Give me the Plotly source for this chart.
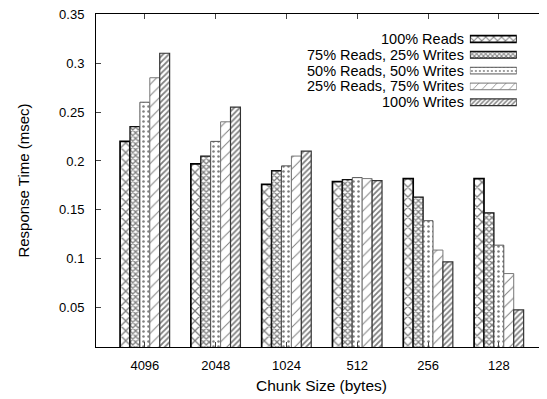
import plotly.graph_objects as go

categories = ["4096", "2048", "1024", "512", "256", "128"]
series_names = ["100% Reads", "75% Reads, 25% Writes", "50% Reads, 50% Writes",
                "25% Reads, 75% Writes", "100% Writes"]
reads100 = [0.220, 0.197, 0.176, 0.179, 0.182, 0.182]
reads75 = [0.235, 0.205, 0.190, 0.181, 0.163, 0.147]
reads50 = [0.260, 0.220, 0.195, 0.183, 0.139, 0.114]
reads25 = [0.285, 0.240, 0.205, 0.182, 0.109, 0.085]
writes100 = [0.310, 0.255, 0.210, 0.180, 0.097, 0.048]
y_ticks = [0.05, 0.1, 0.15, 0.2, 0.25, 0.3, 0.35]
y_tick_labels = ["0.05", "0.1", "0.15", "0.2", "0.25", "0.3", "0.35"]
legend_swatch_len = [1, 1, 1, 1, 1]

series_values = [reads100, reads75, reads50, reads25, writes100]
shapes = ["x", "x", ".", "/", "/"]
sizes = [7, 4, 5, 8, 4]
solidities = [0.33, 0.55, 0.2, 0.12, 0.45]
line_colors = ["black", "#111111", "#555555", "#777777", "#333333"]
line_widths = [1.7, 1.3, 1.0, 1.0, 1.2]

xs = list(range(len(categories)))
fig = go.Figure()
for i, (name, vals) in enumerate(zip(series_names, series_values)):
    fig.add_trace(go.Bar(
        x=xs, y=vals, name=name, showlegend=False,
        marker=dict(color="white",
                    line=dict(color=line_colors[i], width=line_widths[i]),
                    pattern=dict(shape=shapes[i], size=sizes[i],
                                 solidity=solidities[i], fgcolor="black",
                                 bgcolor="white")),
    ))

# legend drawn as a small horizontal-bar key on its own axes (labels left, swatches right)
fig.add_trace(go.Bar(
    x=legend_swatch_len, y=series_names, orientation="h", width=0.42,
    xaxis="x2", yaxis="y2", showlegend=False, hoverinfo="skip",
    marker=dict(color="white",
                line=dict(color=line_colors, width=line_widths),
                pattern=dict(shape=shapes, size=[s * 0.8 for s in sizes],
                             solidity=solidities, fgcolor="black", bgcolor="white")),
))
for name in series_names:
    fig.add_annotation(x=0, y=name, xref="x2", yref="y2", text=name,
                       showarrow=False, xanchor="right", yanchor="middle",
                       xshift=-4, font=dict(size=14.5))

font = "Liberation Sans, Arial, Helvetica, sans-serif"
fig.update_layout(
    width=547, height=399,
    margin=dict(l=88, r=8, t=6, b=60, autoexpand=False),
    paper_bgcolor="white", plot_bgcolor="rgba(0,0,0,0)",
    barmode="group", bargap=0.3, bargroupgap=0,
    font=dict(family=font, size=13, color="black"),
    showlegend=False,
    xaxis=dict(range=[-0.69, 5.68], tickmode="array", tickvals=xs,
               ticktext=categories, ticks="inside", ticklen=5, automargin=False,
               showline=True, linecolor="black", linewidth=1, mirror="ticks",
               showgrid=False, zeroline=False, ticklabelstandoff=6,
               title=dict(text="Chunk Size (bytes)", font=dict(size=15.5), standoff=8),
               tickfont=dict(size=13)),
    yaxis=dict(range=[0.01, 0.3501], tickmode="array", tickvals=y_ticks,
               ticktext=y_tick_labels, ticks="inside", ticklen=5, automargin=False,
               ticklabeloverflow="allow",
               showline=True, linecolor="black", linewidth=1, mirror="ticks",
               showgrid=False, zeroline=False, ticklabelstandoff=8,
               title=dict(text="Response Time (msec)", font=dict(size=15), standoff=25),
               tickfont=dict(size=13)),
    xaxis2=dict(domain=[0.829, 0.933], range=[0, 1], anchor="y2", automargin=False,
                showline=False, showticklabels=False, showgrid=False,
                zeroline=False, ticks=""),
    yaxis2=dict(domain=[0.705, 0.955], anchor="x2", type="category", automargin=False,
                categoryorder="array", categoryarray=series_names,
                autorange="reversed", showline=False, showgrid=False,
                zeroline=False, ticks="", showticklabels=False),
)
fig.write_html("out.html")
